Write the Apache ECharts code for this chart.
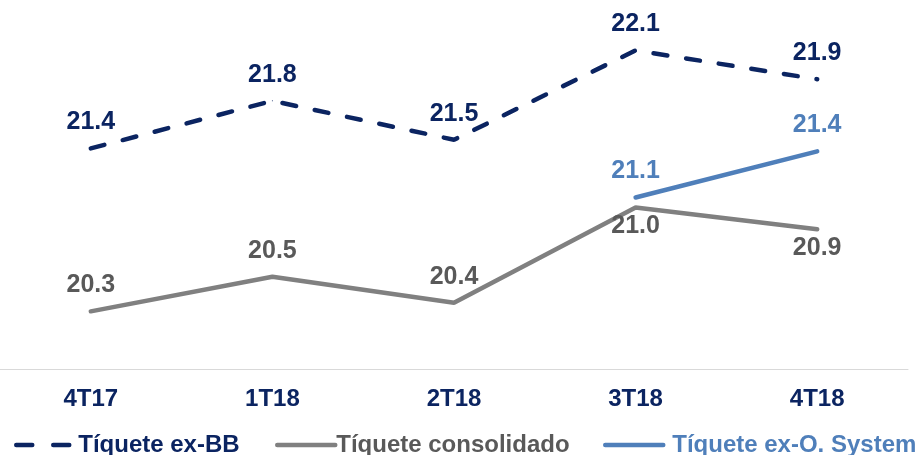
<!DOCTYPE html>
<html>
<head>
<meta charset="utf-8">
<script src="https://cdn.jsdelivr.net/npm/echarts@6/dist/echarts.min.js"></script>
<style>html,body{margin:0;padding:0;background:#fff;}#c{width:922px;height:455px;}</style>
</head>
<body>
<div id="c"></div>
<script>
const categories = ['4T17', '1T18', '2T18', '3T18', '4T18'];
const exBB = [21.43, 21.76, 21.49, 22.11, 21.91];
const consolidado = [20.30, 20.54, 20.36, 21.02, 20.87];
const exOSystem = [null, null, null, 21.09, 21.41];
const seriesNames = ['Tíquete ex-BB', 'Tíquete consolidado', 'Tíquete ex-O. System'];
</script>
<script>
const NAVY = '#0b2461', GRAY = '#808080', GRAYTXT = '#595959', BLUE = '#4f7fba';
const FONT = '"Liberation Sans", Arial, sans-serif';
const chart = echarts.init(document.getElementById('c'), null, {renderer: 'canvas'});
const lblBase = {show: true, fontFamily: FONT, fontWeight: 'bold', fontSize: 25, distance: 13, formatter: p => p.value == null ? '' : Number(p.value).toFixed(1)};
const consBelow = [false, false, false, true, true];
function legendAt(left, name, color, textPad, lineType) {
  return {
    left: left, top: 428, itemWidth: 58, itemHeight: 24, itemGap: 0,
    data: [name], selectedMode: false,
    itemStyle: {opacity: 0},
    lineStyle: lineType ? {width: 4.5, type: lineType} : {width: 4.5},
    textStyle: {fontFamily: FONT, fontWeight: 'bold', fontSize: 24, color: color, padding: [0, 0, 0, textPad]}
  };
}
chart.setOption({
  animation: false,
  grid: {left: -4, right: 14, top: 8.6, bottom: 86},
  legend: [
    legendAt(9, seriesNames[0], NAVY, -1, [16, 21]),
    legendAt(270, seriesNames[1], GRAYTXT, -4),
    legendAt(598, seriesNames[2], BLUE, 4)
  ],
  xAxis: {
    type: 'category', data: categories, boundaryGap: true,
    axisLine: {show: true, lineStyle: {color: '#d9d9d9', width: 1}},
    axisTick: {show: false},
    axisLabel: {color: NAVY, fontFamily: FONT, fontWeight: 'bold', fontSize: 24, margin: 18}
  },
  yAxis: {type: 'value', min: 19.9, max: 22.4, show: false, splitLine: {show: false}},
  series: [
    {
      name: seriesNames[0], type: 'line', data: exBB, symbol: 'circle', symbolSize: 1,
      lineStyle: {color: NAVY, width: 4.5, type: [14, 19], cap: 'round'},
      itemStyle: {color: NAVY},
      label: Object.assign({}, lblBase, {position: 'top', color: NAVY})
    },
    {
      name: seriesNames[1], type: 'line', symbol: 'circle', symbolSize: 1,
      data: consolidado.map((v, i) => ({value: v, label: {position: consBelow[i] ? 'bottom' : 'top', distance: consBelow[i] ? 6 : 13}})),
      lineStyle: {color: GRAY, width: 4.5, cap: 'round'},
      itemStyle: {color: GRAY},
      label: Object.assign({}, lblBase, {color: GRAYTXT})
    },
    {
      name: seriesNames[2], type: 'line', data: exOSystem, symbol: 'circle', symbolSize: 1,
      lineStyle: {color: BLUE, width: 4.5, cap: 'round'},
      itemStyle: {color: BLUE},
      label: Object.assign({}, lblBase, {position: 'top', color: BLUE})
    }
  ]
});
</script>
</body>
</html>
